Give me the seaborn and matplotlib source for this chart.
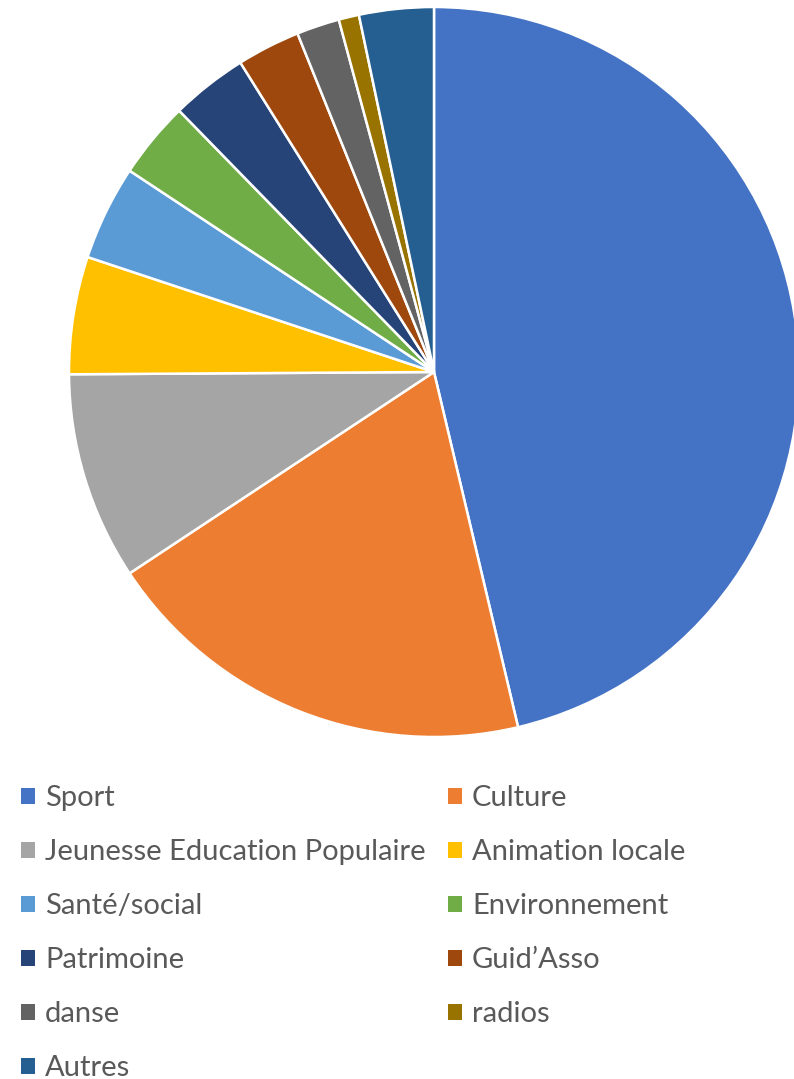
import matplotlib
matplotlib.use('Agg')
import matplotlib.pyplot as plt
from matplotlib.patches import Patch
import seaborn as sns

## data (share of associations per domain, %)
categories = ['Sport', 'Culture', 'Jeunesse Education Populaire', 'Animation locale',
              'Santé/social', 'Environnement', 'Patrimoine', 'Guid\u2019Asso',
              'danse', 'radios', 'Autres']
shares = [46.3, 19.4, 9.2, 5.2, 4.2, 3.4, 3.4, 2.8, 1.9, 0.9, 3.3]
colors = ['#4472C4', '#ED7D31', '#A5A5A5', '#FFC000', '#5B9BD5', '#70AD47',
          '#264478', '#9E480E', '#636363', '#997300', '#255E91']

sns.set_style('white')
plt.rcParams['font.family'] = ['Lato', 'DejaVu Sans']

W, H = 794, 1079
fig = plt.figure(figsize=(W / 100, H / 100), dpi=100)
ax = fig.add_axes([0, 0, 1, 1])

ax.pie(shares, colors=colors, startangle=90, counterclock=False,
       center=(434, H - 372), radius=365,
       wedgeprops=dict(edgecolor='white', linewidth=1.8))
# pie resets the limits, so set them afterwards (1 unit = 1 pixel)
ax.set_xlim(0, W)
ax.set_ylim(0, H)
ax.set_aspect('equal')
ax.axis('off')

# legend: two columns, filled row by row
handles = [Patch(facecolor=c, edgecolor='none') for c in colors]
fs = 21
common = dict(loc='upper left', frameon=False, fontsize=fs, borderpad=0,
              borderaxespad=0, handlelength=0.48, handleheight=0.48,
              handletextpad=0.34, labelspacing=0.96, labelcolor='#595959')
leg1 = ax.legend(handles[0::2], categories[0::2], bbox_to_anchor=(21, H - 785),
                 bbox_transform=ax.transData, **common)
ax.add_artist(leg1)
ax.legend(handles[1::2], categories[1::2], bbox_to_anchor=(448, H - 785),
          bbox_transform=ax.transData, **common)

fig.savefig('out.png', dpi=100)
